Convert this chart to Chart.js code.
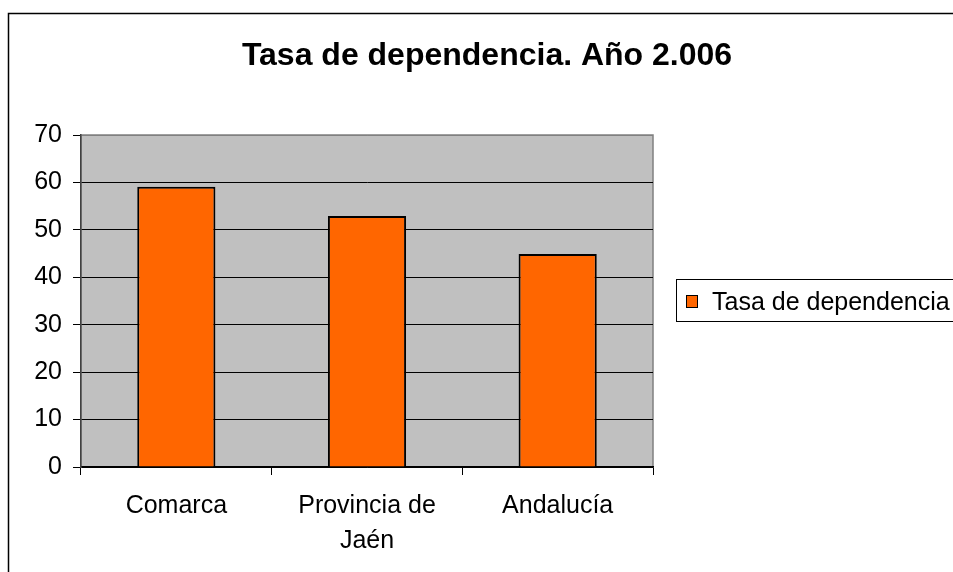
<!DOCTYPE html>
<html>
<head>
<meta charset="utf-8">
<script src="https://cdn.jsdelivr.net/npm/chart.js@4/dist/chart.umd.min.js"></script>
<style>
  html, body { margin: 0; padding: 0; background: #fff; }
  #wrap { width: 953px; height: 572px; }
</style>
</head>
<body>
<div id="wrap"><canvas id="tasaChart" width="953" height="572"></canvas></div>
<script>
// data
const categories = ['Comarca', ['Provincia de', 'Jaén'], 'Andalucía'];
const tasaValues = [59.1, 52.9, 44.9];
const yTicks = [0, 10, 20, 30, 40, 50, 60, 70];
const seriesName = 'Tasa de dependencia';
const chartTitle = 'Tasa de dependencia. Año 2.006';

const FONT = '"Liberation Sans", Arial, sans-serif';

// frame, plot background, title and legend (old excel look)
const excelLook = {
    id: 'excelLook',
    beforeDraw(chart) {
        const c = chart.ctx;
        const a = chart.chartArea;
        c.save();
        c.fillStyle = '#fff';
        c.fillRect(0, 0, chart.width, chart.height);
        // outer frame
        c.strokeStyle = '#000';
        c.lineWidth = 1.5;
        c.beginPath();
        c.moveTo(8.5, chart.height + 2);
        c.lineTo(8.5, 13.5);
        c.lineTo(chart.width + 2, 13.5);
        c.stroke();
        // plot area
        c.fillStyle = '#c0c0c0';
        c.fillRect(a.left, a.top, a.right - a.left, a.bottom - a.top);
        c.strokeStyle = '#808080';
        c.lineWidth = 1.5;
        c.strokeRect(a.left, a.top, a.right - a.left, a.bottom - a.top);
        c.restore();
    },
    afterDraw(chart) {
        const c = chart.ctx;
        const ds = chart.data.datasets[0];
        c.save();
        // title
        c.fillStyle = '#000';
        c.font = 'bold 32px ' + FONT;
        c.textAlign = 'center';
        c.textBaseline = 'alphabetic';
        c.fillText(chartTitle, 487, 65);
        // legend
        c.fillStyle = '#fff';
        c.fillRect(676, 279, 290, 42);
        c.strokeStyle = '#000';
        c.lineWidth = 1;
        c.strokeRect(676.5, 279.5, 290, 42);
        c.fillStyle = ds.backgroundColor;
        c.fillRect(686, 295, 11, 12);
        c.strokeRect(686.5, 295.5, 11, 12);
        c.fillStyle = '#000';
        c.font = '25px ' + FONT;
        c.textAlign = 'left';
        c.textBaseline = 'alphabetic';
        c.fillText(ds.label, 712, 310);
        c.restore();
    }
};

const ctx = document.getElementById('tasaChart').getContext('2d');

const tasaChart = new Chart(ctx, {
    type: 'bar',
    data: {
        labels: categories,
        datasets: [{
            label: seriesName,
            data: tasaValues,
            backgroundColor: '#ff6600',
            borderColor: '#000',
            borderWidth: 2,
            barPercentage: 0.41,
            categoryPercentage: 1
        }]
    },
    options: {
        responsive: false,
        animation: false,
        layout: { padding: { top: 135, right: 300, left: 0, bottom: 0 } },
        plugins: {
            legend: { display: false },
            title: { display: false },
            tooltip: { enabled: false }
        },
        scales: {
            x: {
                afterFit: s => { s.height = 105; },
                grid: {
                    offset: true,
                    drawOnChartArea: false,
                    drawTicks: true,
                    tickLength: 8,
                    color: '#000',
                    lineWidth: 1
                },
                border: { color: '#000', width: 1.5 },
                ticks: {
                    color: '#000',
                    font: { family: FONT, size: 25, lineHeight: 1.4 },
                    padding: 14,
                    maxRotation: 0,
                    autoSkip: false
                }
            },
            y: {
                min: 0,
                max: 70,
                afterFit: s => { s.width = 81; },
                afterBuildTicks: s => { s.ticks = yTicks.map(v => ({ value: v })); },
                grid: {
                    color: c => (c.tick && c.tick.value === 70) ? '#808080' : '#000',
                    lineWidth: 1,
                    tickLength: 8,
                    tickColor: '#000'
                },
                border: { color: '#404040', width: 1.5 },
                ticks: {
                    color: '#000',
                    font: { family: FONT, size: 25 },
                    padding: 11
                }
            }
        }
    },
    plugins: [excelLook]
});
</script>
</body>
</html>
